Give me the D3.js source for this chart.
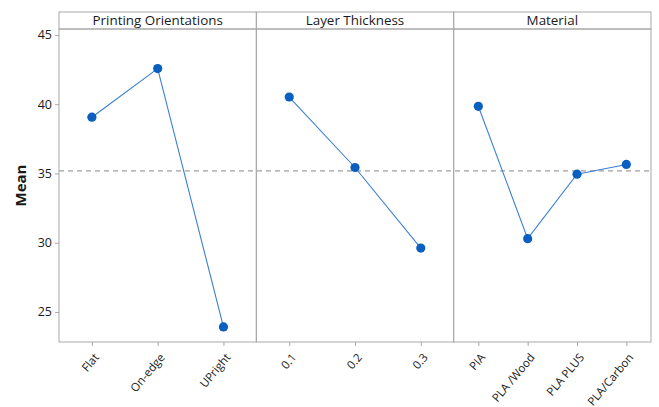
<!DOCTYPE html>
<html>
<head>
<meta charset="utf-8">
<script src="https://cdn.jsdelivr.net/npm/d3@7"></script>
<style>
  body { margin: 0; background: #fff; }
  text { font-family: "Segoe UI", "Open Sans", "DejaVu Sans", sans-serif; fill: #1a1a1a; }
</style>
</head>
<body>
<svg id="chart" width="659" height="407"></svg>
<script>
// Factor names and level labels
const factors = ['Printing Orientations', 'Layer Thickness', 'Material'];
const orientationLevels = ['Flat', 'On-edge', 'UPright'];
const thicknessLevels = ['0.1', '0.2', '0.3'];
const materialLevels = ['PIA', 'PLA /Wood', 'PLA PLUS', 'PLA/Carbon'];

// Means
const orientationMeans = [39.06, 42.57, 23.92];
const thicknessMeans = [40.52, 35.43, 29.61];
const materialMeans = [39.85, 30.29, 34.95, 35.65];

const grandMean = 35.18;
const yTicks = [25, 30, 35, 40, 45];

const panels = [
  { name: factors[0], levels: orientationLevels, values: orientationMeans },
  { name: factors[1], levels: thicknessLevels, values: thicknessMeans },
  { name: factors[2], levels: materialLevels, values: materialMeans },
];

const svg = d3.select('#chart');

// Define dimensions and margins
const margin = { top: 12, right: 8, bottom: 65, left: 59 };
const headerH = 17;
const width = 659 - margin.left - margin.right;
const plotTop = margin.top + headerH;
const plotBottom = 407 - margin.bottom;
const panelW = width / panels.length;

const lineColor = '#3b7fd4';
const pointColor = '#0a5fc0';
const frameColor = '#a8a8a8';

const y = d3.scaleLinear()
  .domain([22.83, 45.43])
  .range([plotBottom, plotTop]);

// Y axis
const yAxis = svg.append('g')
  .attr('transform', `translate(${margin.left}, 0)`)
  .call(d3.axisLeft(y).tickValues(yTicks).tickSize(4).tickPadding(3));
yAxis.select('.domain').remove();
yAxis.selectAll('line').attr('stroke', frameColor);
yAxis.selectAll('text').style('font-size', '12.5px').attr('fill', '#1a1a1a');

svg.append('text')
  .attr('transform', `translate(26, ${(plotTop + plotBottom) / 2}) rotate(-90)`)
  .attr('text-anchor', 'middle')
  .style('font-size', '15px')
  .style('font-weight', 'bold')
  .text('Mean');

// Reference line for overall mean
svg.append('line')
  .attr('x1', margin.left)
  .attr('x2', margin.left + width)
  .attr('y1', y(grandMean))
  .attr('y2', y(grandMean))
  .attr('stroke', '#a0a0a0')
  .attr('stroke-width', 1.2)
  .attr('stroke-dasharray', '5,4');

panels.forEach((p, i) => {
  const x0 = margin.left + i * panelW;
  const x = d3.scalePoint()
    .domain(p.levels)
    .range([x0, x0 + panelW])
    .padding(0.5);

  // Header strip
  svg.append('rect')
    .attr('x', x0)
    .attr('y', margin.top)
    .attr('width', panelW)
    .attr('height', headerH)
    .attr('fill', 'none')
    .attr('stroke', frameColor);

  svg.append('text')
    .attr('x', x0 + panelW / 2)
    .attr('y', margin.top + headerH - 4)
    .attr('text-anchor', 'middle')
    .style('font-size', '13.4px')
    .text(p.name);

  // Panel frame
  svg.append('rect')
    .attr('x', x0)
    .attr('y', plotTop)
    .attr('width', panelW)
    .attr('height', plotBottom - plotTop)
    .attr('fill', 'none')
    .attr('stroke', frameColor);

  // X axis
  const xAxis = svg.append('g')
    .attr('transform', `translate(0, ${plotBottom})`)
    .call(d3.axisBottom(x).tickSize(4).tickPadding(4));
  xAxis.select('.domain').remove();
  xAxis.selectAll('line').attr('stroke', frameColor);
  xAxis.selectAll('text')
    .style('font-size', '11.5px')
    .attr('fill', '#1a1a1a')
    .attr('text-anchor', 'end')
    .attr('dy', '0.35em')
    .attr('transform', 'translate(-2, 8) rotate(-50)');

  const data = p.levels.map((l, j) => ({ level: l, value: p.values[j] }));

  svg.append('path')
    .datum(data)
    .attr('fill', 'none')
    .attr('stroke', lineColor)
    .attr('stroke-width', 1.1)
    .attr('d', d3.line().x((d) => x(d.level)).y((d) => y(d.value)));

  svg.selectAll(`.pt${i}`)
    .data(data)
    .enter()
    .append('circle')
    .attr('class', `pt${i}`)
    .attr('cx', (d) => x(d.level))
    .attr('cy', (d) => y(d.value))
    .attr('r', 4.6)
    .attr('fill', pointColor);
});
</script>
</body>
</html>
